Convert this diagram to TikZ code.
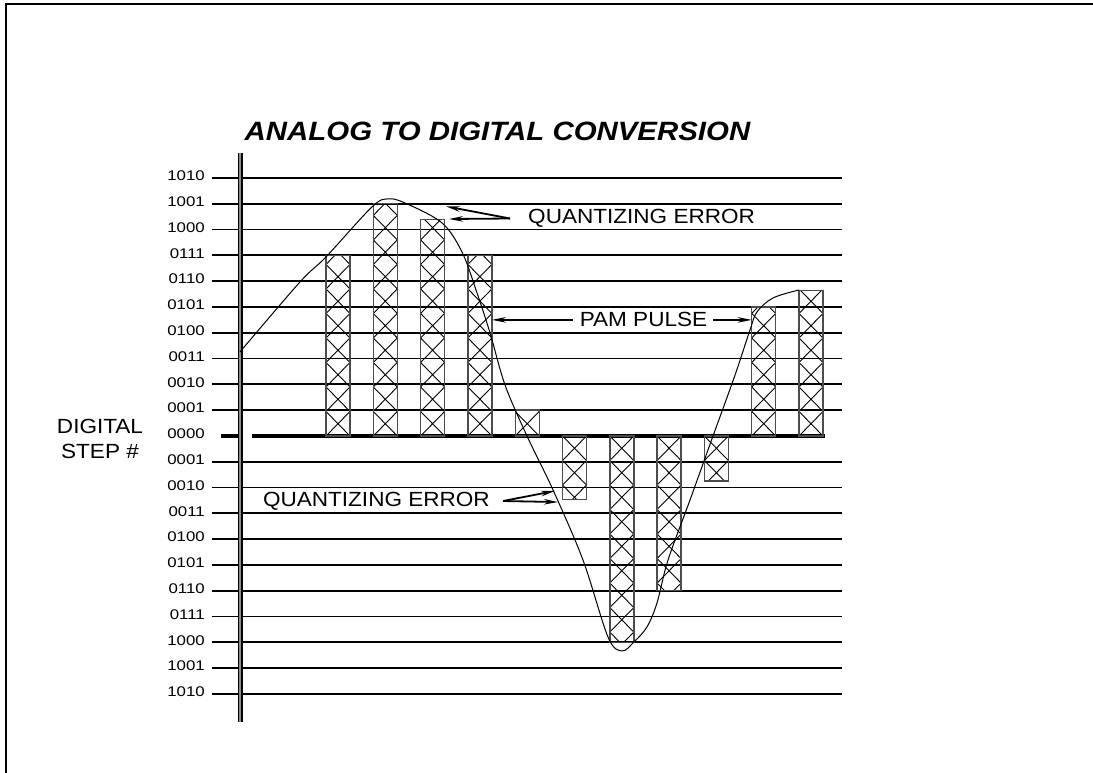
\documentclass[tikz,border=0pt]{standalone}
\usepackage{fontspec}
\newfontfamily\cadfont{Liberation Sans}
\usetikzlibrary{arrows.meta}

\begin{document}
\begin{tikzpicture}[
  x=1pt,
  y=25.8pt,
  grid/.style={line width=1.8pt},
  hatch/.style={line width=0.9pt},
  barline/.style={black!70,line width=1.4pt},
  lbl/.style={font=\cadfont\fontsize{20.5}{25}\selectfont,
    xscale=1.1,inner sep=0pt},
  levlbl/.style={font=\cadfont\fontsize{14}{16}\selectfont,
    xscale=1.2,inner sep=0pt,anchor=east},
  callout/.style={line width=1.8pt,-{Stealth[length=14pt,width=5.5pt]}}
]
  \def\bw{24}
  \def\cell{0.95}
  \useasboundingbox (0,-13.062) rectangle (1093,16.899);

  % Open frame.
  \draw[line width=2.3pt] (6,-13.062) -- (6,16.75) -- (1093,16.75);

  % Title.
  \node[font=\cadfont\bfseries\itshape\fontsize{26.5}{30}\selectfont,
    xscale=1.11,inner sep=0pt] (title) at (497.5,11.82)
    {ANALOG TO DIGITAL CONVERSION};

  % Level lines and their codes.
  \foreach \l/\lab in {10/1010,9/1001,8/1000,7/0111,6/0110,5/0101,
    4/0100,3/0011,2/0010,1/0001,-1/0001,-2/0010,-3/0011,-4/0100,
    -5/0101,-6/0110,-7/0111,-8/1000,-9/1001,-10/1010}
    {
      \draw[grid] (212,\l) -- (842,\l);
      \node[levlbl] (lev\l) at (205,\l+0.08) {\lab};
    }
  \node[levlbl] (lev0) at (205,0.08) {0000};
  \draw[line width=3.5pt] (221,0) -- (240,0);
  \draw[line width=3.5pt] (252,0) -- (825,0);

  % Vertical axis.
  \draw[line width=1.5pt,double=black!45,double distance=2pt]
    (240,10.97) -- (240,-11.09);

  \node[lbl,align=center] (digstep) at (100,-0.12)
    {DIGITAL\\STEP \#};

  % PAM pulses.
  \foreach \bx/\bl in {326/7,373.3/9,420.6/8.4,467.9/7,515.2/1,
    562.5/-2.45,609.8/-8,657.1/-6,704.4/-1.75,751.7/5,799/5.65}
    {
      \pgfmathsetmacro\bs{\bl<0 ? -\cell : \cell}
      \begin{scope}
        \clip (\bx,0) rectangle (\bx+\bw,\bl);
        \foreach \k in {0,...,9}
          \draw[hatch] (\bx,\k*\bs) -- (\bx+\bw,\k*\bs+\bs)
                       (\bx,\k*\bs+\bs) -- (\bx+\bw,\k*\bs);
      \end{scope}
      \draw[barline] (\bx,0) rectangle (\bx+\bw,\bl);
    }

  % Analog signal.
  \draw[line width=1pt] plot[smooth,tension=0.55] coordinates {
    (240,3.26) (300,5.97) (326,6.94) (372,8.88) (388,9.19) (405,9.03)
    (442,8.26) (462,7.13) (476,5.66) (490,4.0) (505,1.98) (527,0)
    (553,-2.09) (583,-4.81) (608,-7.79) (622,-8.33) (634,-7.98)
    (647,-7.4) (657,-6.47) (668,-4.81) (690,-2.48) (713,0) (735,2.36)
    (750,4.11) (757,4.81) (773,5.35) (799,5.66)};

  % Callouts.
  \node[lbl,anchor=west] (qtop) at (528,8.43) {QUANTIZING ERROR};
  \coordinate (qtopA) at ([xshift=-18pt]qtop.west);
  \coordinate (qtopB) at (446,8.9);
  \coordinate (qtopC) at (449,8.41);
  \draw[callout] (qtopA) -- (qtopB);
  \draw[callout] (qtopA) -- (qtopC);

  \node[lbl,anchor=east] (qbot) at (490,-2.52) {QUANTIZING ERROR};
  \coordinate (qbotA) at ([xshift=13pt]qbot.east);
  \coordinate (qbotB) at (555,-2.13);
  \coordinate (qbotC) at (558,-2.56);
  \draw[callout] (qbotA) -- (qbotB);
  \draw[callout] (qbotA) -- (qbotC);

  \node[lbl] (pam) at (643.5,4.5) {PAM PULSE};
  \coordinate (pamL) at (491.9,4.5);
  \coordinate (pamR) at (751.7,4.5);
  \draw[callout] ([xshift=-7pt]pam.west) -- (pamL);
  \draw[callout] ([xshift=6pt]pam.east) -- (pamR);
\end{tikzpicture}
\end{document}
